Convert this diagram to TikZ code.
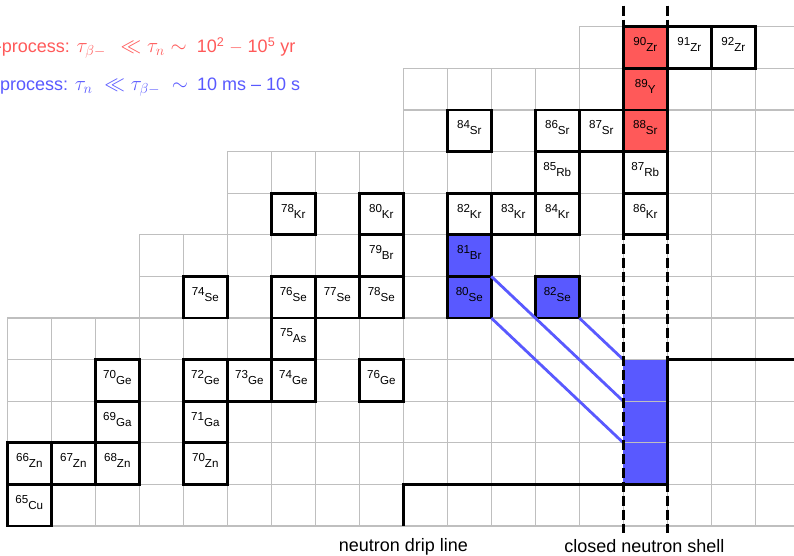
\documentclass[tikz,border=0pt]{standalone}
\usepackage{fontspec}
\setmainfont{Liberation Sans}
\colorlet{sred}{red!65}
\colorlet{rblue}{blue!65}
\newcommand\isot[2]{\raisebox{6pt}{#1}#2}
\newcommand\capmath[1]{{\fontsize{20}{24}\selectfont$#1$}}
\begin{document}
\begin{tikzpicture}[x=44pt,y=41.6pt,
  gridl/.style={draw=gray!50,line width=1.2pt},
  stable/.style={draw=black,line width=2.8pt,fill=white,rectangle,
    minimum width=44pt,minimum height=41.6pt,inner sep=0pt,outer sep=0pt,
    text height=14pt,text depth=5.6pt,font=\fontsize{11.6}{13}\selectfont},
  rline/.style={draw=rblue,line width=2.8pt},
  drip/.style={draw=black,line width=3.5pt},
  shell/.style={draw=black,line width=2.6pt,dash pattern=on 10.5pt off 3.5pt},
  caption/.style={inner sep=0pt,font=\fontsize{18}{22}\selectfont}]
\useasboundingbox (-7.3pt,-30pt) rectangle (786.7pt,526pt);
% grid
\foreach \r/\s in {0/0,1/0,2/0,3/0,4/0,5/3,6/3,7/5,8/5,9/9,10/9,11/13} {
  \draw[gridl] (\s,\r) -- (18,\r) (\s,\r+1) -- (18,\r+1);
  \foreach \c in {\s,...,18} \draw[gridl] (\c,\r) -- (\c,\r+1);
}
% r-process waiting point column
\fill[rblue] (14,1) rectangle (15,4);
\draw[gridl] (14,2) -- (15,2) (14,3) -- (15,3);
% stable isotopes
\foreach \c/\r/\A/\E/\f in {
  0/0/65/Cu/white,
  0/1/66/Zn/white, 1/1/67/Zn/white, 2/1/68/Zn/white, 4/1/70/Zn/white,
  2/2/69/Ga/white, 4/2/71/Ga/white,
  2/3/70/Ge/white, 4/3/72/Ge/white, 5/3/73/Ge/white, 6/3/74/Ge/white, 8/3/76/Ge/white,
  6/4/75/As/white,
  4/5/74/Se/white, 6/5/76/Se/white, 7/5/77/Se/white, 8/5/78/Se/white, 10/5/80/Se/rblue, 12/5/82/Se/rblue,
  8/6/79/Br/white, 10/6/81/Br/rblue,
  6/7/78/Kr/white, 8/7/80/Kr/white, 10/7/82/Kr/white, 11/7/83/Kr/white, 12/7/84/Kr/white, 14/7/86/Kr/white,
  12/8/85/Rb/white, 14/8/87/Rb/white,
  10/9/84/Sr/white, 12/9/86/Sr/white, 13/9/87/Sr/white, 14/9/88/Sr/sred,
  14/10/89/Y/sred,
  14/11/90/Zr/sred, 15/11/91/Zr/white, 16/11/92/Zr/white}
  \node[stable,fill=\f] (n\A\E) at (\c+0.5,\r+0.5) {\isot{\A}{\E}};
% r-process paths
\coordinate (r1) at (14,2);
\coordinate (r2) at (14,3);
\coordinate (r3) at (14,4);
\draw[rline] (n80Se.south east) -- (r1);
\draw[rline] (n80Se.north east) -- (r2);
\draw[rline] (n82Se.south east) -- (r3);
% neutron drip line
\draw[drip] (9,0) -- (9,1) -- (15,1) -- (15,4) -- (18,4);
% closed neutron shell
\coordinate (sa1) at (14,12.507);
\coordinate (sa2) at (14,-0.168);
\coordinate (sb1) at (15,12.507);
\coordinate (sb2) at (15,-0.168);
\draw[shell] (sa1) -- (sa2);
\draw[shell] (sb1) -- (sb2);
% captions
\node[caption,anchor=base west,text=sred] (sproc) at (-20.6pt,473.3pt)
  {s-process: \capmath{\tau_{\beta-}\hspace{9pt} \ll \tau_n \sim}\hspace{5pt} 10\textsuperscript{2} $-$ 10\textsuperscript{5} yr};
\node[caption,anchor=base west,text=rblue] (rproc) at (-19.3pt,435.3pt)
  {r-process: \capmath{\tau_n \hspace{6pt}\ll \tau_{\beta-}\hspace{6pt} \sim}\hspace{4pt} 10 ms -- 10 s};
\node[caption,anchor=base] (dripl) at (396pt,-25.5pt) {neutron drip line};
\node[caption,anchor=base] (shelll) at (637pt,-27pt) {closed neutron shell};
\end{tikzpicture}
\end{document}
